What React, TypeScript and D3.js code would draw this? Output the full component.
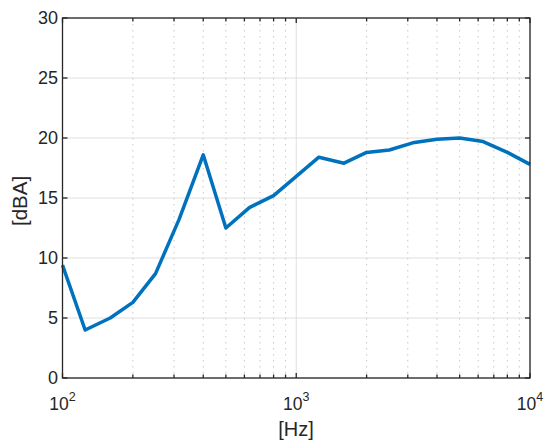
import React, { useEffect, useRef } from "react";
import * as d3 from "d3";

// third-octave band centres and measured level
const freqs = [100, 125, 160, 200, 250, 315, 400, 500, 630, 800, 1000, 1250, 1600, 2000, 2500, 3150, 4000, 5000, 6300, 8000, 10000];
const levels = [9.4, 4.0, 5.0, 6.3, 8.7, 13.2, 18.6, 12.5, 14.2, 15.2, 16.8, 18.4, 17.9, 18.8, 19.0, 19.6, 19.9, 20.0, 19.7, 18.8, 17.8];
const yTicks = [0, 5, 10, 15, 20, 25, 30];
const xMajor = [100, 1000, 10000];
const xExp = ["2", "3", "4"];

export default function App() {
  const ref = useRef<SVGSVGElement>(null);

  useEffect(() => {
    const svg = d3.select(ref.current);
    svg.selectAll("*").remove();

    const left = 62.5, right = 530, top = 18, bottom = 378;
    const x = d3.scaleLog().domain([100, 10000]).range([left, right]);
    const y = d3.scaleLinear().domain([0, 30]).range([bottom, top]);

    const xMinor: number[] = [];
    [100, 1000].forEach(dec => {
      for (let k = 2; k <= 9; k++) xMinor.push(dec * k);
    });

    const g = svg.append("g");

    // grid
    g.selectAll(".gy").data(yTicks).enter().append("line")
      .attr("x1", left).attr("x2", right)
      .attr("y1", d => y(d)).attr("y2", d => y(d))
      .attr("stroke", "#dfdfdf").attr("stroke-width", 1);
    g.selectAll(".gxm").data(xMinor).enter().append("line")
      .attr("x1", d => x(d)).attr("x2", d => x(d))
      .attr("y1", top).attr("y2", bottom)
      .attr("stroke", "#c8c8c8").attr("stroke-width", 1)
      .attr("stroke-dasharray", "1.5,4.5");
    g.selectAll(".gx").data(xMajor).enter().append("line")
      .attr("x1", d => x(d)).attr("x2", d => x(d))
      .attr("y1", top).attr("y2", bottom)
      .attr("stroke", "#dfdfdf").attr("stroke-width", 1);

    // line
    const line = d3.line<number>()
      .x((d, i) => x(freqs[i]))
      .y(d => y(d));
    g.append("path").datum(levels)
      .attr("d", line)
      .attr("fill", "none")
      .attr("stroke", "#0072BD")
      .attr("stroke-width", 3.5)
      .attr("stroke-linejoin", "round");

    // box
    g.append("rect")
      .attr("x", left).attr("y", top)
      .attr("width", right - left).attr("height", bottom - top)
      .attr("fill", "none").attr("stroke", "#262626").attr("stroke-width", 1.3);

    // ticks
    const tl = 5, tm = 3.5;
    yTicks.forEach(t => {
      g.append("line").attr("x1", left).attr("x2", left + tl).attr("y1", y(t)).attr("y2", y(t))
        .attr("stroke", "#262626").attr("stroke-width", 1.3);
      g.append("line").attr("x1", right).attr("x2", right - tl).attr("y1", y(t)).attr("y2", y(t))
        .attr("stroke", "#262626").attr("stroke-width", 1.3);
    });
    xMajor.concat(xMinor).forEach(t => {
      const len = xMajor.includes(t) ? tl : tm;
      g.append("line").attr("x1", x(t)).attr("x2", x(t)).attr("y1", bottom).attr("y2", bottom - len)
        .attr("stroke", "#262626").attr("stroke-width", 1.3);
      g.append("line").attr("x1", x(t)).attr("x2", x(t)).attr("y1", top).attr("y2", top + len)
        .attr("stroke", "#262626").attr("stroke-width", 1.3);
    });

    const font = "'Liberation Sans', Arial, sans-serif";

    // y labels
    g.selectAll(".yl").data(yTicks).enter().append("text")
      .attr("x", left - 4.5).attr("y", d => y(d))
      .attr("dy", "0.36em")
      .attr("text-anchor", "end")
      .attr("font-family", font).attr("font-size", 18)
      .attr("fill", "#262626")
      .text(d => d);

    // x labels with superscript
    xMajor.forEach((t, i) => {
      const txt = g.append("text")
        .attr("x", x(t)).attr("y", 410)
        .attr("text-anchor", "middle")
        .attr("font-family", font).attr("font-size", 17.5)
        .attr("fill", "#262626");
      txt.append("tspan").text("10");
      txt.append("tspan").attr("dy", -9).attr("font-size", 12.5).text(xExp[i]);
    });

    g.append("text")
      .attr("x", 296).attr("y", 436)
      .attr("text-anchor", "middle")
      .attr("font-family", font).attr("font-size", 20)
      .attr("fill", "#262626")
      .text("[Hz]");

    g.append("text")
      .attr("transform", `translate(27, 201) rotate(-90)`)
      .attr("text-anchor", "middle")
      .attr("font-family", font).attr("font-size", 20.5)
      .attr("fill", "#262626")
      .text("[dBA]");
  }, []);

  return (
    <svg ref={ref} width={545} height={442} style={{ position: "absolute", left: 0, top: 0, background: "#fff" }} />
  );
}
